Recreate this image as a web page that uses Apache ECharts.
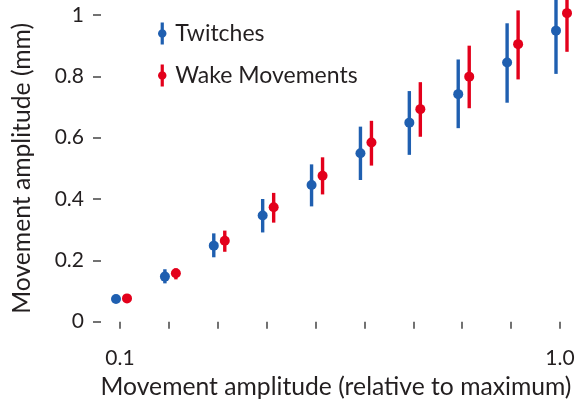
<!DOCTYPE html>
<html>
<head>
<meta charset="utf-8">
<script src="https://cdn.jsdelivr.net/npm/echarts@6/dist/echarts.min.js"></script>
<style>
  html, body { margin: 0; padding: 0; background: #fff; }
  #chart { width: 581px; height: 407px; }
</style>
</head>
<body>
<div id="chart"></div>
<script>
// Stimulus amplitude (relative to maximum), log-spaced steps
var categories = ['0.1', '0.13', '0.17', '0.22', '0.28', '0.36', '0.46', '0.6', '0.77', '1.0'];

// Twitches: mean and error range (mm)
var twitchMean = [0.074, 0.147, 0.248, 0.346, 0.446, 0.549, 0.649, 0.742, 0.845, 0.949];
var twitchLow  = [0.070, 0.125, 0.210, 0.291, 0.376, 0.462, 0.544, 0.631, 0.714, 0.808];
var twitchHigh = [0.078, 0.171, 0.288, 0.400, 0.513, 0.636, 0.752, 0.855, 0.973, 1.090];

// Wake movements: mean and error range (mm)
var wakeMean = [0.076, 0.158, 0.264, 0.373, 0.476, 0.584, 0.693, 0.799, 0.905, 1.006];
var wakeLow  = [0.072, 0.138, 0.228, 0.323, 0.415, 0.509, 0.603, 0.696, 0.790, 0.880];
var wakeHigh = [0.080, 0.174, 0.297, 0.420, 0.536, 0.655, 0.781, 0.900, 1.015, 1.130];

// Y tick values
var yTicks = [0, 0.2, 0.4, 0.6, 0.8, 1];

var BLUE = '#1f5fb0';
var RED = '#e3001b';
var TEXT = '#231f20';
var FONT = 'Lato';
var FS_TICK = 21;
var FS_NAME = 24.7;
var FS_LEGEND = 23;

function buildData(mean, low, high) {
  return mean.map(function (m, i) { return [i, m, low[i], high[i]]; });
}

function errorRenderer(color, dx) {
  return function (params, api) {
    var x = api.value(0);
    var c = api.coord([x, api.value(1)]);
    var lo = api.coord([x, api.value(2)]);
    var hi = api.coord([x, api.value(3)]);
    var px = c[0] + dx;
    return {
      type: 'group',
      children: [
        { type: 'line', shape: { x1: px, y1: lo[1], x2: px, y2: hi[1] },
          style: { stroke: color, lineWidth: 3.4 } },
        { type: 'circle', shape: { cx: px, cy: c[1], r: 5 },
          style: { fill: color } }
      ]
    };
  };
}

// vertical bar with a round marker in the middle
var legendIcon = 'path://M3.4,0 L6.6,0 L6.6,6.9 A4.5,4.5 0 0 1 6.6,15.1 L6.6,22 L3.4,22 L3.4,15.1 A4.5,4.5 0 0 1 3.4,6.9 Z';

var chart = echarts.init(document.getElementById('chart'), null, { renderer: 'canvas' });
chart.setOption({
  animation: false,
  backgroundColor: '#fff',
  textStyle: { fontFamily: FONT, color: TEXT },
  grid: { left: 120, right: 21, top: 15, bottom: 85.3, containLabel: false },
  legend: {
    orient: 'vertical',
    left: 153,
    top: 17,
    itemWidth: 10,
    itemHeight: 22,
    itemGap: 19,
    textStyle: { fontFamily: FONT, fontSize: FS_LEGEND, color: TEXT, padding: [0, 0, 0, 3] },
    data: [
      { name: 'Twitches', icon: legendIcon, itemStyle: { color: BLUE } },
      { name: 'Wake Movements', icon: legendIcon, itemStyle: { color: RED } }
    ]
  },
  xAxis: {
    type: 'category',
    data: categories,
    boundaryGap: false,
    offset: 9,
    name: 'Movement amplitude (relative to maximum)',
    nameLocation: 'middle',
    nameGap: 44,
    nameTextStyle: { fontFamily: FONT, fontSize: FS_NAME, color: TEXT, padding: [0, 8, 0, 0] },
    axisLine: { show: false },
    axisTick: { show: true, length: 7, interval: 0, lineStyle: { color: '#444', width: 1.5 } },
    axisLabel: {
      fontFamily: FONT, fontSize: FS_TICK, color: TEXT, margin: 17,
      interval: function (i) { return i === 0 || i === categories.length - 1; }
    },
    splitLine: { show: false }
  },
  yAxis: {
    type: 'value',
    min: yTicks[0],
    max: yTicks[yTicks.length - 1],
    interval: 0.2,
    offset: 19,
    name: 'Movement amplitude (mm)',
    nameLocation: 'middle',
    nameGap: 66,
    nameTextStyle: { fontFamily: FONT, fontSize: FS_NAME, color: TEXT },
    axisLine: { show: false },
    axisTick: { show: true, length: 8, lineStyle: { color: '#444', width: 1.5 } },
    axisLabel: { fontFamily: FONT, fontSize: FS_TICK, color: TEXT, margin: 17 },
    splitLine: { show: false }
  },
  series: [
    {
      name: 'Twitches',
      type: 'custom',
      itemStyle: { color: BLUE },
      renderItem: errorRenderer(BLUE, -4),
      encode: { x: 0, y: [1, 2, 3] },
      data: buildData(twitchMean, twitchLow, twitchHigh),
      z: 3
    },
    {
      name: 'Wake Movements',
      type: 'custom',
      itemStyle: { color: RED },
      renderItem: errorRenderer(RED, 7),
      encode: { x: 0, y: [1, 2, 3] },
      data: buildData(wakeMean, wakeLow, wakeHigh),
      z: 4
    }
  ]
});
</script>
</body>
</html>
